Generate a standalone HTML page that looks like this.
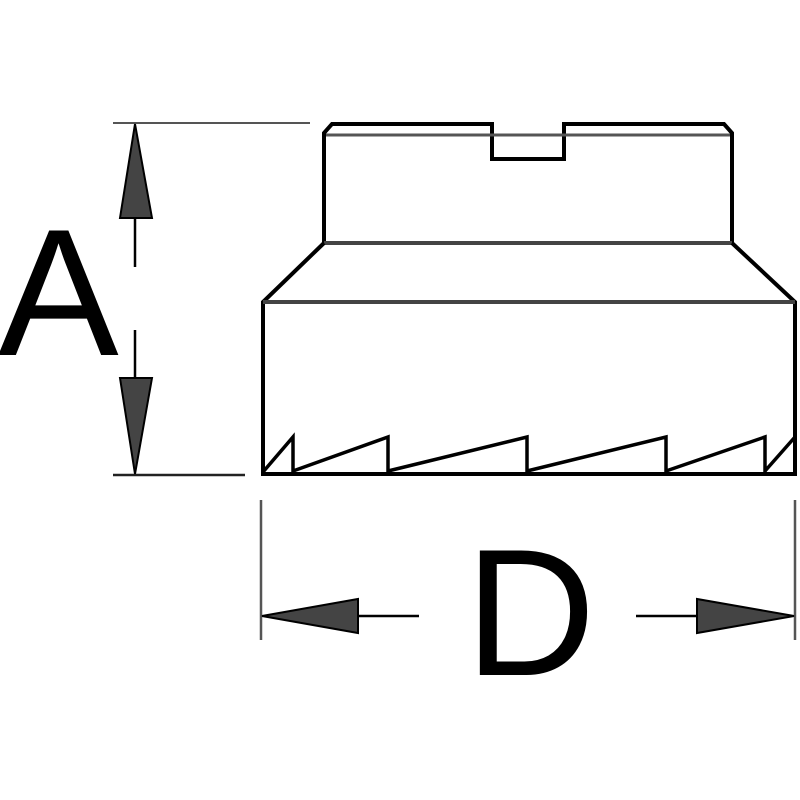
<!DOCTYPE html>
<html><head><style>html,body{margin:0;padding:0;background:#fff;}svg{display:block}</style></head>
<body>
<svg width="800" height="800" viewBox="0 0 800 800" xmlns="http://www.w3.org/2000/svg">
<g stroke="#000" fill="none" stroke-linejoin="miter">
<!-- upper body -->
<path d="M324,243 L324,133 L332,124 L492,124 L492,159 L564,159 L564,124 L724,124 L732,133 L732,243" stroke-width="4"/>
<line x1="326" y1="135" x2="730" y2="135" stroke="#555" stroke-width="3"/>
<line x1="324" y1="243" x2="732" y2="243" stroke="#444" stroke-width="4"/>
<!-- taper -->
<path d="M324,243 L263,302 L263,474 L795,474 L795,302 L732,243" stroke-width="4"/>
<line x1="263" y1="302" x2="795" y2="302" stroke="#444" stroke-width="4"/>
<!-- teeth -->
<path d="M263,472 L293,437 L293,474 M293,471 L388,437 L388,474 M388,471 L527,437 L527,474 M527,471 L666,437 L666,474 M666,471 L765,437 L765,474 M765,471 L795,437" stroke-width="3.5"/>
<!-- A dimension -->
<line x1="113" y1="123" x2="310" y2="123" stroke="#555" stroke-width="2"/>
<line x1="113" y1="475" x2="245" y2="475" stroke="#222" stroke-width="2.5"/>
<line x1="135" y1="218" x2="135" y2="267" stroke-width="2.5"/>
<line x1="135" y1="330" x2="135" y2="378" stroke-width="2.5"/>
<polygon points="135,124 152,218 120,218" fill="#444" stroke-width="2"/>
<polygon points="135,474 152,378 120,378" fill="#444" stroke-width="2"/>
<!-- D dimension -->
<line x1="261" y1="500" x2="261" y2="640" stroke="#555" stroke-width="2.5"/>
<line x1="795" y1="500" x2="795" y2="640" stroke="#555" stroke-width="2.5"/>
<line x1="358" y1="616" x2="419" y2="616" stroke-width="2.5"/>
<line x1="636" y1="616" x2="697" y2="616" stroke-width="2.5"/>
<polygon points="262,616 358,599 358,633" fill="#444" stroke-width="2"/>
<polygon points="794,616 697,599 697,633" fill="#444" stroke-width="2"/>
</g>
<text x="-2" y="355" font-family="Liberation Sans, sans-serif" font-size="181" fill="#000">A</text>
<text x="465" y="675" font-family="Liberation Sans, sans-serif" font-size="181" fill="#000">D</text>
</svg>
</body></html>
